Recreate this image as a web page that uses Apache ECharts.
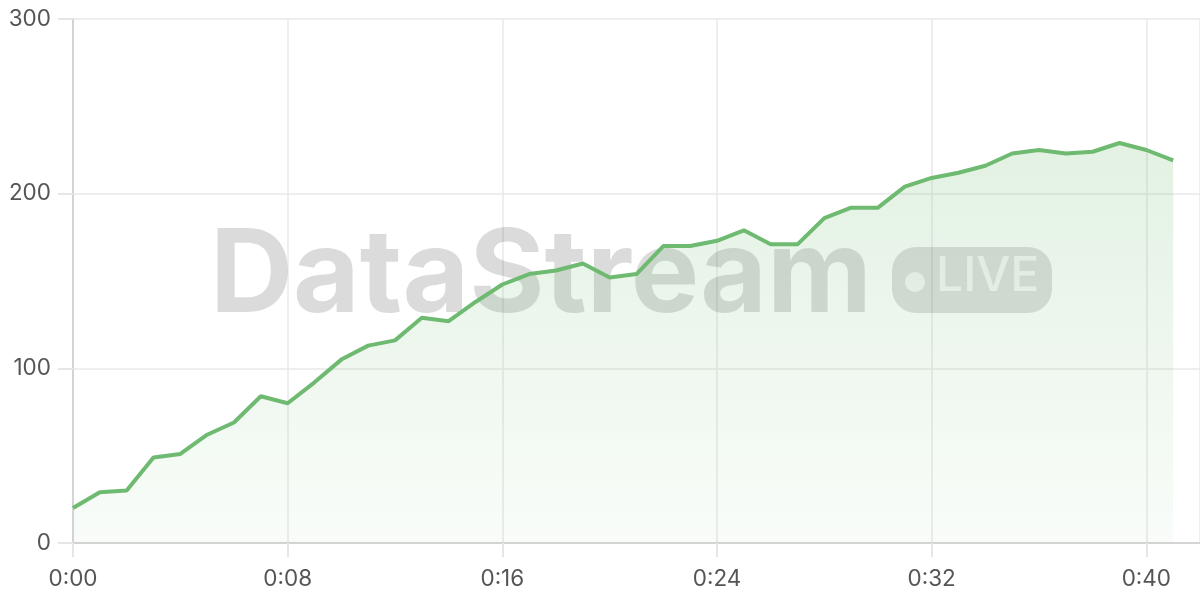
<!DOCTYPE html>
<html>
<head>
<meta charset="utf-8">
<script src="https://cdn.jsdelivr.net/npm/echarts@6/dist/echarts.min.js"></script>
<style>html,body{margin:0;padding:0;background:#fff}#c{width:1200px;height:600px}</style>
</head>
<body>
<div id="c"></div>
<script>
const minutes = [0,1,2,3,4,5,6,7,8,9,10,11,12,13,14,15,16,17,18,19,20,21,22,23,24,25,26,27,28,29,30,31,32,33,34,35,36,37,38,39,40,41];
const values = [20,29,30,49,51,62,69,84,80,92,105,113,116,129,127,138,148,154,156,160,152,154,170,170,173,179,171,171,186,192,192,204,209,212,216,223,225,223,224,229,225,219];
const yTicks = [0,100,200,300];
const watermarkTitle = 'DataStream';
const watermarkBadge = 'LIVE';

const chart = echarts.init(document.getElementById('c'));
const FONT = 'Inter, "Noto Sans", sans-serif';
chart.setOption({
  animation: false,
  grid: {left: 73, right: 0, top: 19, bottom: 57, containLabel: false, outerBoundsMode: 'none'},
  xAxis: {
    type: 'value', min: 0, max: 42, interval: 8,
    axisLine: {show: true, lineStyle: {color: '#d4d4d4', width: 2}},
    axisTick: {show: true, length: 14, lineStyle: {color: '#e6e6e6', width: 2}},
    splitLine: {show: true, lineStyle: {color: '#e8e8e8', width: 1.5}},
    axisLabel: {color: '#555', fontSize: 22.5, fontFamily: FONT, margin: 25, showMaxLabel: false,
      formatter: v => '0:' + String(v).padStart(2, '0')}
  },
  yAxis: {
    type: 'value', min: yTicks[0], max: yTicks[yTicks.length-1], interval: 100,
    axisLine: {show: true, lineStyle: {color: '#d4d4d4', width: 2}},
    axisTick: {show: true, length: 15, lineStyle: {color: '#e6e6e6', width: 2}},
    splitLine: {show: true, lineStyle: {color: '#e8e8e8', width: 1.5}},
    axisLabel: {color: '#555', fontSize: 22.5, fontFamily: FONT, margin: 22}
  },
  graphic: [
    {type: 'text', left: 210, top: 220, z: 1, silent: true,
      style: {text: watermarkTitle, font: 'bold 115px ' + FONT, fill: 'rgba(0,0,0,0.14)'}},
    {type: 'rect', left: 892, top: 247, z: 1, silent: true,
      shape: {width: 160, height: 66, r: 24}, style: {fill: 'rgba(0,0,0,0.13)'}},
    {type: 'circle', left: 905, top: 272, z: 1, silent: true,
      shape: {r: 10}, style: {fill: 'rgba(255,255,255,0.7)'}},
    {type: 'text', left: 936, top: 253, z: 1, silent: true,
      style: {text: watermarkBadge, font: '500 48px ' + FONT, fill: 'rgba(255,255,255,0.7)'}}
  ],
  series: [{
    type: 'line',
    data: minutes.map((m, i) => [m, values[i]]),
    showSymbol: false,
    z: 3,
    lineStyle: {color: '#6fba71', width: 4},
    itemStyle: {color: '#6fba71'},
    areaStyle: {
      color: new echarts.graphic.LinearGradient(0, 0, 0, 1, [
        {offset: 0, color: 'rgba(109,186,111,0.28)'},
        {offset: 1, color: 'rgba(109,186,111,0.06)'}
      ])
    }
  }]
});
</script>
</body>
</html>
